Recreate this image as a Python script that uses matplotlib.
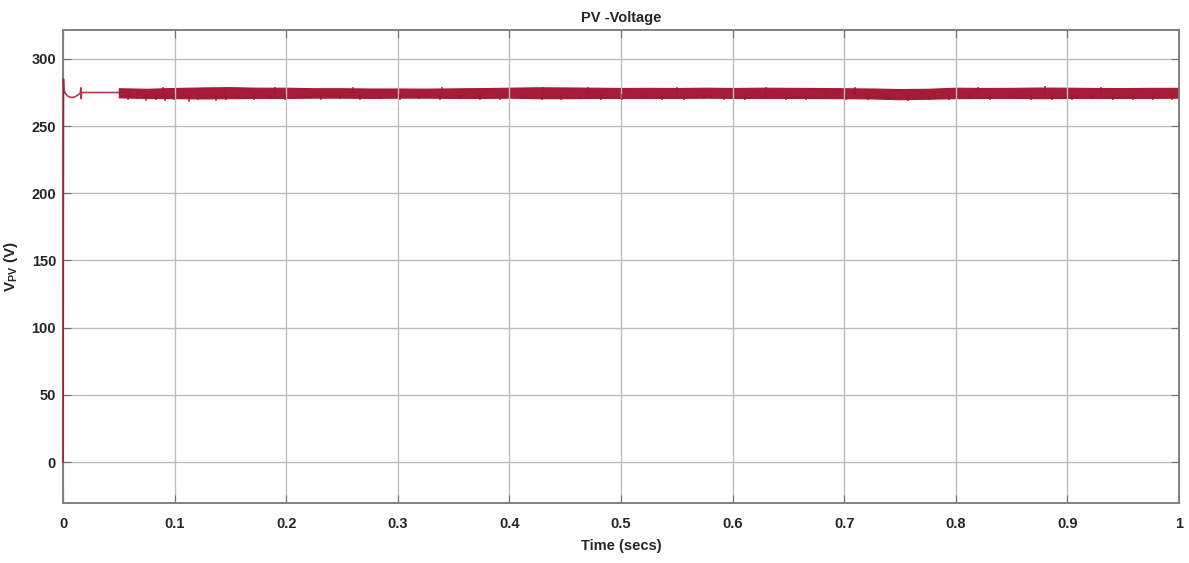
import matplotlib.pyplot as plt
import numpy as np

plt.rcParams['font.family'] = ['Liberation Sans', 'DejaVu Sans']
plt.rcParams['mathtext.fontset'] = 'custom'
plt.rcParams['mathtext.bf'] = 'Liberation Sans:bold'
plt.rcParams['mathtext.rm'] = 'Liberation Sans:bold'

# start-up transient (before the MPPT kicks in)
start_t = [0, 0.0004, 0.0008, 0.002, 0.004, 0.007, 0.010, 0.013, 0.0155, 0.016, 0.0163, 0.0165, 0.05]
start_v = [0, 285, 277, 274.5, 272.5, 271.3, 271.5, 273, 274.5, 278.5, 270.5, 275, 275]

# envelope of the ripple band after t = 0.05 s
band_t = [0.05, 0.075, 0.1, 0.125, 0.15, 0.175, 0.2, 0.225, 0.25, 0.275,
          0.3, 0.325, 0.35, 0.375, 0.4, 0.425, 0.45, 0.475, 0.5, 0.525,
          0.55, 0.575, 0.6, 0.625, 0.65, 0.675, 0.7, 0.725, 0.75, 0.775,
          0.8, 0.825, 0.85, 0.875, 0.9, 0.925, 0.95, 0.975, 1.0]
band_hi = [278.2, 277.8, 278.4, 278.8, 279, 278.6, 278.6, 278.2, 278.2, 278,
           278, 277.9, 278.1, 278.3, 278.6, 278.9, 278.8, 278.6, 278.4, 278.5,
           278.4, 278.6, 278.4, 278.6, 278.5, 278.4, 278.2, 278, 277.6, 277.8,
           278.6, 278.4, 278.5, 278.7, 278.6, 278.4, 278.3, 278.5, 278.5]
band_lo = [271.4, 271, 270.8, 270.6, 270.8, 271, 271, 271.2, 271.2, 271,
           271.2, 271.2, 271, 271, 271.2, 270.8, 270.8, 271, 271, 271,
           271, 271.2, 271, 271, 271, 270.9, 270.8, 270.6, 270, 270.4,
           270.8, 271, 271, 270.8, 271, 271, 271, 271, 271.2]

# isolated spikes outside the band (downward and upward)
spike_t = [0.058, 0.066, 0.074, 0.083, 0.091, 0.099, 0.106, 0.113, 0.121, 0.128,
           0.137, 0.146, 0.158, 0.171, 0.186, 0.199, 0.214, 0.231, 0.248, 0.266,
           0.284, 0.302, 0.319, 0.338, 0.356, 0.374, 0.392, 0.411, 0.429, 0.446,
           0.463, 0.482, 0.501, 0.519, 0.537, 0.556, 0.574, 0.592, 0.611, 0.629,
           0.648, 0.666, 0.684, 0.702, 0.721, 0.739, 0.757, 0.776, 0.794, 0.812,
           0.831, 0.849, 0.867, 0.886, 0.904, 0.922, 0.941, 0.959, 0.977, 0.994]
spike_v = [269.5, 270, 269, 269.8, 268.6, 269.6, 270, 268.2, 269.5, 270.2,
           269, 269.8, 270, 269.4, 270.2, 269.6, 270, 269.8, 270.2, 269.6,
           270, 269.8, 270.4, 269.6, 270, 269.8, 269.5, 270, 269.2, 269.8,
           270, 269.6, 269.8, 270.2, 269.6, 269.8, 270, 269.6, 269.8, 270,
           269.6, 269.4, 270, 269.2, 269.6, 269.4, 269, 269.2, 269.8, 270,
           269.6, 270, 269.4, 269.8, 269.6, 270, 269.4, 269.8, 269.6, 269.5]
spike_up_t = [0.09, 0.145, 0.19, 0.26, 0.34, 0.43, 0.47, 0.55, 0.63, 0.71, 0.82, 0.88, 0.93]
spike_up_v = [279.2, 279.4, 279.2, 278.8, 279, 279.4, 279.2, 279, 279, 278.8, 279.2, 279.6, 279]

xticks = [0, 0.1, 0.2, 0.3, 0.4, 0.5, 0.6, 0.7, 0.8, 0.9, 1]
xticklabels = ['0', '0.1', '0.2', '0.3', '0.4', '0.5', '0.6', '0.7', '0.8', '0.9', '1']
yticks = [0, 50, 100, 150, 200, 250, 300]

red = '#A2142F'

fig = plt.figure(figsize=(11.89, 5.63), dpi=100)
ax = fig.add_axes([0.053, 0.1066, 0.9386, 0.84])

ax.plot(start_t, start_v, color=red, lw=1.2, alpha=0.85, clip_on=False, zorder=5)
ax.fill_between(band_t, band_lo, band_hi, color=red, lw=0.8, edgecolor=red, alpha=0.97)
ax.vlines(spike_t, spike_v, 274, color=red, lw=1.3, alpha=0.75)
ax.vlines(spike_up_t, 274, spike_up_v, color=red, lw=1.3, alpha=0.75)

ax.set_xlim(0, 1)
ax.set_ylim(-30.5, 321.5)
ax.set_xticks(xticks)
ax.set_xticklabels(xticklabels)
ax.set_yticks(yticks)
ax.grid(True, color='#bdbdbd', lw=1.0)
ax.tick_params(axis='both', direction='in', top=True, right=True, length=6,
               color='#707070', labelsize=10.5)
ax.tick_params(axis='y', pad=5)
ax.tick_params(axis='x', pad=10)
for lab in ax.get_xticklabels() + ax.get_yticklabels():
    lab.set_fontweight('bold')
    lab.set_color('#262626')
for s in ax.spines.values():
    s.set_color('#808080')
    s.set_linewidth(1.4)

ax.set_title('PV -Voltage', fontsize=10.5, fontweight='bold', color='#262626', pad=6)
ax.set_xlabel('Time (secs)', fontsize=10.5, fontweight='bold', color='#262626', labelpad=6)
ax.set_ylabel(r'$\mathbf{V}_{\mathbf{PV}}$ (V)', fontsize=11, fontweight='bold',
              color='#262626', labelpad=8)

fig.savefig('out.png', dpi=100)
